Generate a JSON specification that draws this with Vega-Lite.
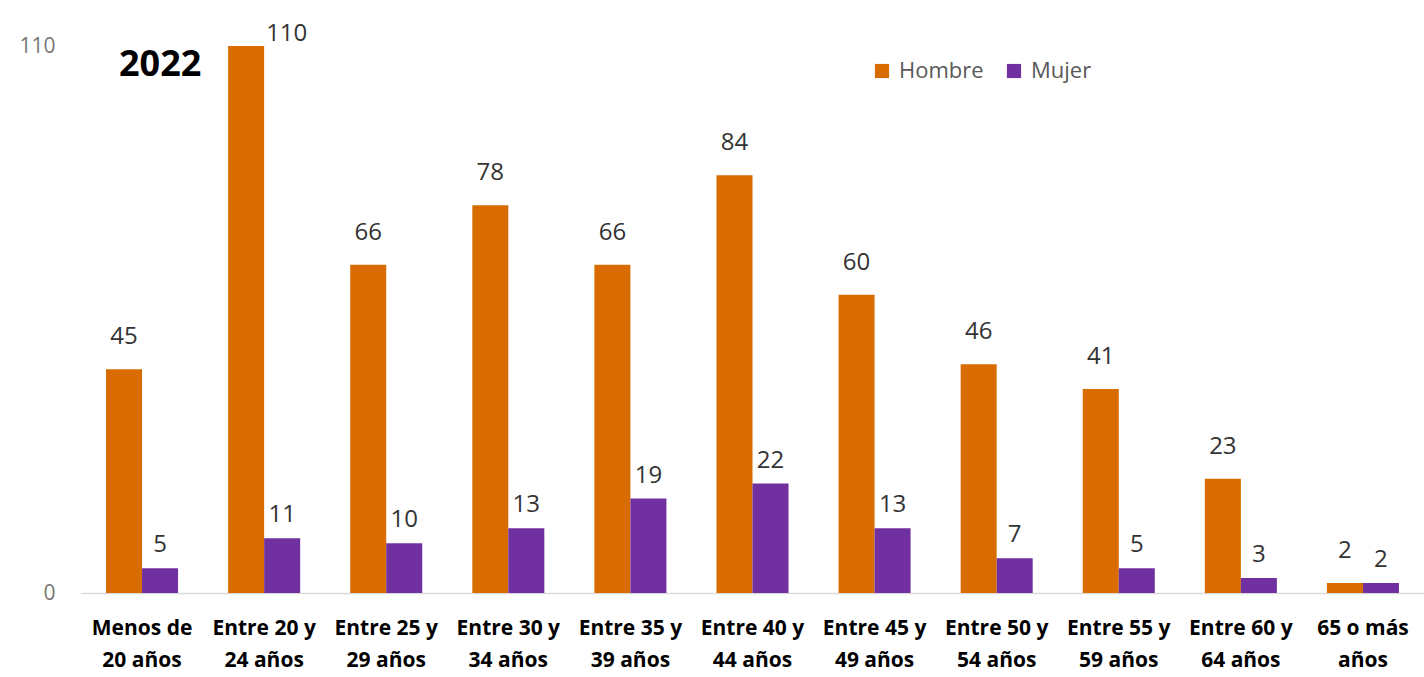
{
  "$schema": "https://vega.github.io/schema/vega-lite/v6.json",
  "width": 1343,
  "height": 547,
  "autosize": {"type": "none"},
  "padding": {"left": 81, "top": 46, "right": 0, "bottom": 84},
  "background": "white",
  "config": {"view": {"stroke": null}, "font": "Open Sans"},
  "title": {
    "text": "2022",
    "anchor": "start",
    "orient": "top",
    "fontSize": 36,
    "fontWeight": "bold",
    "font": "Open Sans",
    "color": "#000000",
    "frame": "group",
    "baseline": "middle",
    "offset": 0,
    "dx": 38,
    "dy": 79
  },
  "data": {
    "values": [
      {"edad": "Menos de 20 años", "sexo": "Hombre", "n": 45},
      {"edad": "Menos de 20 años", "sexo": "Mujer", "n": 5},
      {"edad": "Entre 20 y 24 años", "sexo": "Hombre", "n": 110},
      {"edad": "Entre 20 y 24 años", "sexo": "Mujer", "n": 11},
      {"edad": "Entre 25 y 29 años", "sexo": "Hombre", "n": 66},
      {"edad": "Entre 25 y 29 años", "sexo": "Mujer", "n": 10},
      {"edad": "Entre 30 y 34 años", "sexo": "Hombre", "n": 78},
      {"edad": "Entre 30 y 34 años", "sexo": "Mujer", "n": 13},
      {"edad": "Entre 35 y 39 años", "sexo": "Hombre", "n": 66},
      {"edad": "Entre 35 y 39 años", "sexo": "Mujer", "n": 19},
      {"edad": "Entre 40 y 44 años", "sexo": "Hombre", "n": 84},
      {"edad": "Entre 40 y 44 años", "sexo": "Mujer", "n": 22},
      {"edad": "Entre 45 y 49 años", "sexo": "Hombre", "n": 60},
      {"edad": "Entre 45 y 49 años", "sexo": "Mujer", "n": 13},
      {"edad": "Entre 50 y 54 años", "sexo": "Hombre", "n": 46},
      {"edad": "Entre 50 y 54 años", "sexo": "Mujer", "n": 7},
      {"edad": "Entre 55 y 59 años", "sexo": "Hombre", "n": 41},
      {"edad": "Entre 55 y 59 años", "sexo": "Mujer", "n": 5},
      {"edad": "Entre 60 y 64 años", "sexo": "Hombre", "n": 23},
      {"edad": "Entre 60 y 64 años", "sexo": "Mujer", "n": 3},
      {"edad": "65 o más años", "sexo": "Hombre", "n": 2},
      {"edad": "65 o más años", "sexo": "Mujer", "n": 2}
    ]
  },
  "encoding": {
    "x": {
      "field": "edad",
      "type": "nominal",
      "sort": null,
      "scale": {"paddingInner": 0.41, "paddingOuter": 0.205},
      "axis": {
        "title": null,
        "labelAngle": 0,
        "ticks": false,
        "domainColor": "#d9d9d9",
        "domainWidth": 1.5,
        "labelFontSize": 21,
        "labelFontWeight": "bold",
        "labelColor": "#000000",
        "labelFont": "Open Sans",
        "labelPadding": 24,
        "labelLineHeight": 32,
        "labelBaseline": "top",
        "labelExpr": "datum.label == '65 o más años' ? ['65 o más', 'años'] : [substring(datum.label, 0, length(datum.label) - 8), substring(datum.label, length(datum.label) - 7)]"
      }
    },
    "xOffset": {"field": "sexo", "type": "nominal", "sort": ["Hombre", "Mujer"], "scale": {"paddingInner": 0}},
    "y": {
      "field": "n",
      "type": "quantitative",
      "scale": {"domain": [0, 110], "nice": false},
      "axis": {
        "title": null,
        "values": [0, 110],
        "grid": false,
        "domain": false,
        "ticks": false,
        "labelPadding": 26,
        "labelFontSize": 21,
        "labelColor": "#767676",
        "labelFont": "Open Sans"
      }
    }
  },
  "layer": [
    {
      "mark": {"type": "bar"},
      "encoding": {
        "color": {
          "field": "sexo",
          "type": "nominal",
          "sort": ["Hombre", "Mujer"],
          "scale": {"domain": ["Hombre", "Mujer"], "range": ["#D96C00", "#7030A0"]},
          "legend": {
            "title": null,
            "orient": "none",
            "legendX": 790,
            "legendY": 14,
            "direction": "horizontal",
            "symbolType": "square",
            "symbolSize": 200,
            "symbolStrokeWidth": 0,
            "labelFontSize": 22,
            "labelColor": "#595959",
            "labelFont": "Open Sans",
            "labelOffset": 6,
            "columnPadding": 19
          }
        }
      }
    },
    {
      "transform": [{"filter": "datum.n < 100 && datum.sexo == 'Hombre'"}],
      "mark": {"type": "text", "baseline": "bottom", "dy": -20, "fontSize": 24, "color": "#333333", "font": "Open Sans"},
      "encoding": {"text": {"field": "n", "type": "quantitative"}}
    },
    {
      "transform": [{"filter": "datum.n < 100 && datum.sexo == 'Mujer'"}],
      "mark": {"type": "text", "baseline": "bottom", "dy": -11, "fontSize": 24, "color": "#333333", "font": "Open Sans"},
      "encoding": {"text": {"field": "n", "type": "quantitative"}}
    },
    {
      "transform": [{"filter": "datum.n >= 100"}],
      "mark": {"type": "text", "baseline": "bottom", "align": "left", "dx": 20, "dy": 0, "fontSize": 24, "color": "#333333", "font": "Open Sans"},
      "encoding": {"text": {"field": "n", "type": "quantitative"}}
    }
  ]
}
